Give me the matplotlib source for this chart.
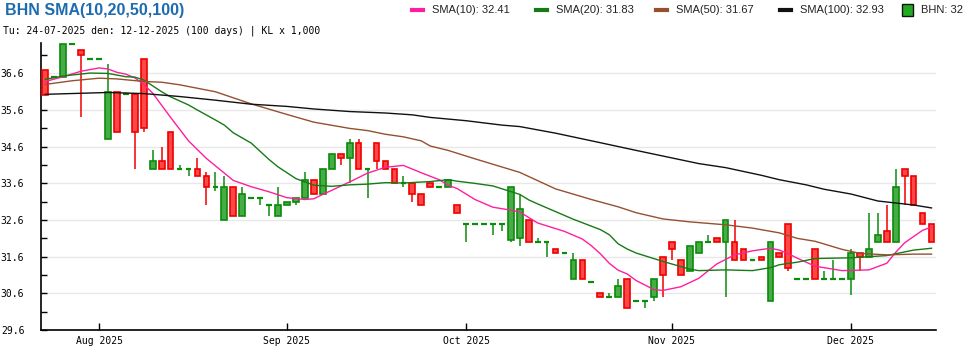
import numpy as np
import pandas as pd
import matplotlib
matplotlib.use('Agg')
import matplotlib.pyplot as plt
from matplotlib.lines import Line2D
from matplotlib.patches import Rectangle

# BHN daily candles, price in thousand VND
ticker = 'BHN'
holidays = ['2025-09-01', '2025-09-02']
open_ = [36.7, 36.5, 36.5, 37.4, 37.25, 37.0, 37.0, 34.8, 36.1, 36.05,
         36.05, 37.0, 34.0, 34.2, 35.0, 34.0, 34.0, 34.0, 33.8, 33.5,
         32.6, 33.5, 32.7, 33.2, 33.2, 33.0, 32.7, 33.0, 33.1, 33.2,
         33.7, 33.3, 34.0, 34.4, 34.3, 34.7, 34.0, 34.7, 34.2, 34.0,
         33.6, 33.6, 33.3, 33.6, 33.5, 33.5, 33.0, 32.5, 32.5, 32.5,
         32.5, 32.5, 32.05, 32.1, 32.6, 32.0, 32.0, 31.8, 31.7, 31.0,
         31.5, 30.9, 30.6, 30.5, 30.5, 31.0, 30.4, 30.4, 30.5, 31.6,
         32.0, 31.5, 31.2, 31.7, 32.0, 32.1, 32.0, 32.0, 31.8, 31.5,
         31.6, 30.4, 31.7, 32.5, 31.0, 31.0, 31.8, 31.0, 31.0, 31.0,
         31.0, 31.7, 31.6, 32.0, 32.3, 32.0, 34.0, 33.8, 32.8, 32.5]
high = [36.7, 36.5, 37.4, 37.4, 37.25, 37.0, 37.0, 36.85, 36.1, 36.05,
        36.05, 37.0, 34.5, 34.6, 35.0, 34.1, 34.0, 34.3, 33.9, 33.9,
        33.8, 33.5, 33.5, 33.2, 33.2, 33.0, 33.5, 33.1, 33.2, 33.9,
        33.7, 34.0, 34.4, 34.4, 34.8, 34.8, 34.0, 34.7, 34.2, 34.0,
        33.8, 33.6, 33.3, 33.6, 33.5, 33.7, 33.0, 32.5, 32.5, 32.5,
        32.5, 32.5, 33.5, 33.3, 32.6, 32.1, 32.0, 31.8, 31.7, 31.7,
        31.5, 30.9, 30.6, 30.6, 31.0, 31.0, 30.4, 30.4, 31.0, 31.6,
        32.0, 31.5, 31.9, 32.0, 32.2, 32.1, 32.6, 32.6, 31.8, 31.5,
        31.6, 32.0, 31.7, 32.5, 31.0, 31.0, 31.8, 31.2, 31.5, 31.0,
        31.8, 31.7, 32.8, 32.8, 33.0, 34.0, 34.0, 33.8, 32.8, 32.5]
low = [36.0, 36.5, 36.5, 37.4, 35.4, 37.0, 37.0, 34.8, 35.0, 36.05,
       34.0, 35.0, 34.0, 34.0, 34.0, 34.0, 33.8, 33.8, 33.0, 33.4,
       32.6, 32.7, 32.7, 33.2, 33.0, 32.7, 32.7, 33.0, 33.0, 33.2,
       33.3, 33.3, 34.0, 34.1, 33.6, 34.0, 33.2, 34.0, 34.0, 33.6,
       33.5, 33.1, 33.0, 33.5, 33.5, 33.5, 32.8, 32.0, 32.5, 32.5,
       32.2, 32.3, 32.0, 31.9, 32.0, 32.0, 31.6, 31.7, 31.7, 31.0,
       31.0, 30.9, 30.5, 30.5, 30.5, 30.2, 30.4, 30.2, 30.4, 30.5,
       31.5, 31.1, 31.2, 31.7, 32.0, 32.0, 30.5, 31.5, 31.5, 31.5,
       31.5, 30.4, 31.6, 31.2, 31.0, 31.0, 31.0, 31.0, 31.0, 31.0,
       30.55, 31.2, 31.6, 32.0, 32.0, 32.0, 33.0, 33.0, 32.5, 32.0]
close = [36.0, 36.5, 37.4, 37.4, 37.1, 37.0, 37.0, 36.1, 35.0, 36.05,
         35.0, 35.1, 34.2, 34.0, 34.0, 34.0, 34.0, 33.8, 33.5, 33.5,
         33.5, 32.7, 33.3, 33.2, 33.2, 33.0, 33.0, 33.1, 33.2, 33.7,
         33.3, 34.0, 34.4, 34.3, 34.7, 34.0, 34.0, 34.2, 34.0, 33.6,
         33.6, 33.3, 33.0, 33.5, 33.5, 33.7, 32.8, 32.5, 32.5, 32.5,
         32.5, 32.5, 33.5, 32.9, 32.0, 32.0, 32.0, 31.7, 31.7, 31.5,
         31.0, 30.9, 30.5, 30.5, 30.8, 30.2, 30.4, 30.4, 31.0, 31.1,
         31.8, 31.1, 31.9, 32.0, 32.0, 32.0, 32.6, 31.5, 31.5, 31.5,
         31.5, 32.0, 31.6, 31.3, 31.0, 31.0, 31.0, 31.0, 31.0, 31.0,
         31.7, 31.6, 31.8, 32.2, 32.0, 33.5, 33.8, 33.0, 32.5, 32.0]

# moving averages (session index, value)
sma10_idx = [0, 2, 4, 6, 7, 8, 9, 10, 11, 12, 14, 16, 18, 21, 23, 25, 27, 29, 30, 31,
             32, 34, 36, 38, 40, 42, 44, 45, 46, 48, 50, 52, 53, 55, 58, 60, 61, 62, 63, 64,
             65, 66, 68, 69, 71, 73, 75, 77, 79, 81, 82, 83, 84, 86, 89, 92, 94, 95, 96, 97,
             98, 99]
sma10_val = [36.38, 36.51, 36.66, 36.75, 36.72, 36.63, 36.58, 36.48, 36.30, 36.06,
             35.40, 34.76, 34.28, 33.68, 33.51, 33.37, 33.21, 33.16, 33.18, 33.30,
             33.41, 33.64, 33.88, 34.04, 34.09, 33.89, 33.70, 33.55, 33.46, 33.16,
             32.95, 32.87, 32.82, 32.52, 32.29, 32.08, 31.90, 31.68, 31.42, 31.23,
             31.13, 30.95, 30.70, 30.68, 30.78, 31.01, 31.40, 31.65, 31.76, 31.83,
             31.78, 31.68, 31.56, 31.34, 31.22, 31.24, 31.42, 31.72, 31.98, 32.15,
             32.32, 32.41]
sma20_idx = [0, 2, 5, 7, 9, 10, 11, 13, 14, 16, 17, 19, 20, 21, 23, 25, 26, 28, 30, 32,
             34, 36, 38, 40, 43, 45, 46, 48, 50, 53, 54, 55, 59, 62, 63, 64, 65, 66, 69, 72,
             73, 76, 79, 81, 82, 84, 86, 90, 94, 97, 99]
sma20_val = [36.44, 36.53, 36.61, 36.60, 36.51, 36.50, 36.42, 36.10, 35.96, 35.74,
             35.60, 35.33, 35.19, 34.98, 34.70, 34.25, 34.05, 33.73, 33.55, 33.52,
             33.56, 33.58, 33.62, 33.61, 33.65, 33.70, 33.66, 33.60, 33.53, 33.30,
             33.15, 33.04, 32.62, 32.34, 32.20, 31.95, 31.81, 31.70, 31.47, 31.26,
             31.22, 31.24, 31.22, 31.30, 31.38, 31.45, 31.55, 31.57, 31.63, 31.78,
             31.83]
sma50_idx = [0, 3, 6, 8, 11, 13, 15, 19, 23, 27, 30, 34, 36, 38, 40, 42, 43, 45, 48, 53,
             57, 61, 64, 66, 69, 72, 76, 79, 82, 84, 86, 89, 91, 94, 97, 99]
sma50_val = [36.30, 36.40, 36.47, 36.45, 36.38, 36.36, 36.29, 36.10, 35.77, 35.48,
             35.27, 35.10, 35.04, 34.94, 34.87, 34.76, 34.62, 34.50, 34.27, 33.90,
             33.45, 33.16, 32.96, 32.80, 32.63, 32.55, 32.47, 32.38, 32.25, 32.10,
             32.02, 31.80, 31.69, 31.65, 31.67, 31.67]
sma100_idx = [0, 7, 11, 15, 19, 23, 27, 30, 34, 38, 41, 43, 47, 51, 53, 57, 62, 66, 73, 76,
              80, 82, 85, 87, 90, 93, 97, 99]
sma100_val = [36.03, 36.08, 36.05, 35.97, 35.87, 35.76, 35.70, 35.63, 35.56, 35.52,
              35.47, 35.40, 35.31, 35.19, 35.15, 34.97, 34.71, 34.50, 34.14, 34.03,
              33.82, 33.70, 33.56, 33.44, 33.31, 33.12, 33.01, 32.93]

# trading sessions
days = pd.bdate_range('2025-07-24', '2025-12-12')
days = days[~days.isin(pd.to_datetime(holidays))]
x = np.arange(len(days))

o = np.array(open_)
h = np.array(high)
l = np.array(low)
c = np.array(close)
up = c >= o
flat = c == o

fig = plt.figure(figsize=(9.7, 3.5), dpi=100)
ax = fig.add_axes([41 / 970, 20 / 350, 895 / 970, 287 / 350])

green_fill = '#46ad46'
green_edge = '#0b8c0b'
red_fill = '#ff4747'
red_edge = '#f00000'
w = 0.64

# wicks
ax.vlines(x[up], l[up], h[up], color=green_edge, lw=1.1, zorder=2)
ax.vlines(x[~up], l[~up], h[~up], color=red_edge, lw=1.1, zorder=2)

# bodies
body = up & ~flat
ax.bar(x[body], (c - o)[body], bottom=o[body], width=w, color=green_fill,
       edgecolor=green_edge, linewidth=1.2, zorder=3)
ax.bar(x[~up], (o - c)[~up], bottom=c[~up], width=w, color=red_fill,
       edgecolor=red_edge, linewidth=1.2, zorder=3)
ax.hlines(c[flat], x[flat] - w / 2, x[flat] + w / 2, color=green_edge, lw=1.6, zorder=3)

# moving averages
sma_lines = [
    ('SMA(10)', sma10_idx, sma10_val, '#ff1f9e'),
    ('SMA(20)', sma20_idx, sma20_val, '#177a17'),
    ('SMA(50)', sma50_idx, sma50_val, '#95502f'),
    ('SMA(100)', sma100_idx, sma100_val, '#111111'),
]
for name, idx, val, col in sma_lines:
    ax.plot(idx, val, color=col, lw=1.0, zorder=4)

ax.set_xlim(-0.48, 99.5)
ax.set_ylim(29.6, 37.43)

yt = np.arange(29.6, 36.65, 1.0)
ax.set_yticks(yt)
ax.set_yticklabels(['%.1f' % v for v in yt], fontfamily='DejaVu Sans Mono', fontsize=7)
ax.set_yticks(yt + 0.5, minor=True)
ax.tick_params(axis='y', which='both', direction='in', length=4, width=1, pad=12)

months = pd.Series(days.month)
first = np.where(months.diff().fillna(0) != 0)[0]
ax.set_xticks(first)
ax.set_xticklabels([days[i].strftime('%b %Y') for i in first],
                   fontfamily='DejaVu Sans Mono', fontsize=7)
ax.tick_params(axis='x', direction='in', length=5, width=1, pad=4)

ax.grid(axis='y', which='major', color='#e8e8e8', lw=1)
ax.set_axisbelow(True)
for s in ['top', 'right']:
    ax.spines[s].set_visible(False)
for s in ['left', 'bottom']:
    ax.spines[s].set_linewidth(1.2)

# header
fig.text(5 / 970, 1 - 11 / 350, '%s SMA(10,20,50,100)' % ticker,
         fontfamily='Liberation Sans', fontweight='bold',
         fontsize=11.5, color='#1d6bb0', va='center', ha='left')
fig.text(3 / 970, 1 - 31 / 350,
         'Tu: %s den: %s (%d days) | KL x 1,000' % (days[0].strftime('%d-%m-%Y'),
                                                   days[-1].strftime('%d-%m-%Y'), len(days)),
         fontfamily='DejaVu Sans Mono', fontsize=7, va='center', ha='left')

# legend
ly = 1 - 10 / 350
lx = [412, 536, 656, 780]
for (name, idx, val, col), px in zip(sma_lines, lx):
    fig.add_artist(Line2D([px / 970, (px + 11) / 970], [ly, ly], color=col, lw=3))
    fig.text((px + 20) / 970, ly, '%s: %.2f' % (name, val[-1]),
             fontfamily='Liberation Sans', fontsize=8, color='#222222',
             va='center', ha='left')
fig.add_artist(Rectangle((902 / 970, ly - 6 / 350), 11 / 970, 12 / 350,
                         facecolor='#22aa22', edgecolor='#111111', lw=1,
                         transform=fig.transFigure))
fig.text(921 / 970, ly, '%s: %g' % (ticker, close[-1]), fontfamily='Liberation Sans',
         fontsize=8, color='#222222', va='center', ha='left')

fig.savefig('out.png', dpi=100, facecolor='white')
